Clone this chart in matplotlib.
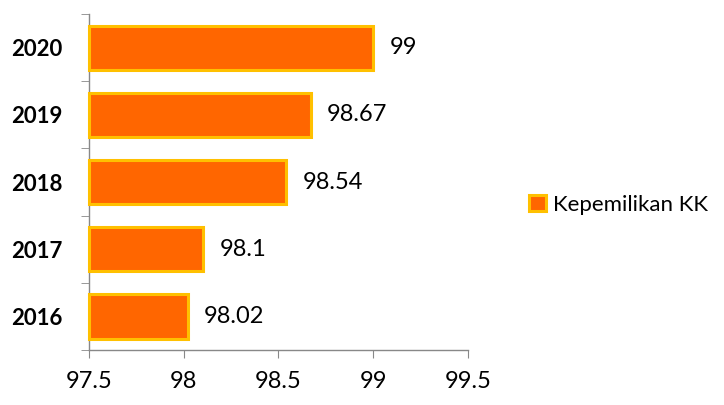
import matplotlib
matplotlib.use("Agg")
import matplotlib.pyplot as plt
import numpy as np

years = ["2016", "2017", "2018", "2019", "2020"]
values = [98.02, 98.1, 98.54, 98.67, 99]
value_labels = ["98.02", "98.1", "98.54", "98.67", "99"]
xticks = [97.5, 98, 98.5, 99, 99.5]
xtick_labels = ["97.5", "98", "98.5", "99", "99.5"]
series_name = "Kepemilikan KK"

plt.rcParams['font.family'] = ['Lato', 'DejaVu Sans']

fig = plt.figure(figsize=(7.24, 4.05), dpi=100)
ax = fig.add_axes([0.123, 0.136, 0.523, 0.829])

base = 97.5
y = np.arange(len(years))
bars = ax.barh(y, [v - base for v in values], left=base, height=0.66,
               color="#FF6600", edgecolor="#FFC000", linewidth=2.2,
               label=series_name, zorder=3)
for b in bars:
    b.set_clip_on(False)

for yi, v, lab in zip(y, values, value_labels):
    ax.annotate(lab, xy=(v, yi), xytext=(12, 0), textcoords="offset points",
                va="center", ha="left", fontsize=17, color="black")

ax.set_xlim(97.5, 99.5)
ax.set_ylim(-0.5, len(years) - 0.5)
ax.set_xticks(xticks)
ax.set_xticklabels(xtick_labels, fontsize=17)
ax.set_yticks(y)
ax.set_yticklabels(years, fontsize=16, fontweight="bold")
ax.set_yticks(np.arange(-0.5, len(years)), minor=True)
ax.tick_params(axis="y", which="major", length=0, pad=19)
ax.tick_params(axis="y", which="minor", length=6, color="#888888", direction="out")
ax.tick_params(axis="x", which="major", length=6, color="#888888", direction="out", pad=9)

for s in ["top", "right"]:
    ax.spines[s].set_visible(False)
for s in ["left", "bottom"]:
    ax.spines[s].set_color("#888888")
    ax.spines[s].set_linewidth(1)

leg = fig.legend(handles=[bars], labels=[series_name], loc="center left",
                 bbox_to_anchor=(0.703, 0.495), frameon=False, fontsize=16,
                 handlelength=0.75, handleheight=0.75, handletextpad=0.35)

fig.savefig("out.png", dpi=100)
